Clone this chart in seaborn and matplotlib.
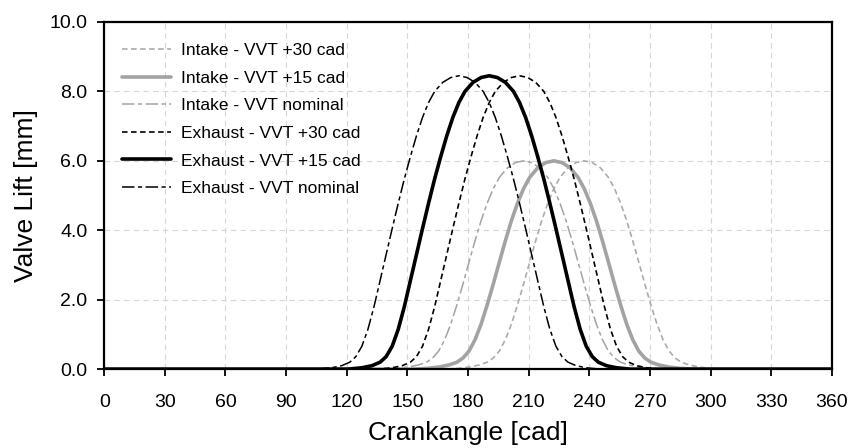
import matplotlib
matplotlib.use("Agg")
import matplotlib.pyplot as plt
import seaborn as sns
import pandas as pd

# ---- data ----
exhaust_lift = [0, 0, 0.04, 0.1, 0.2, 0.36, 0.66, 1.15, 1.8, 2.55, 3.3, 4.05, 4.78, 5.48, 6.12, 6.72, 7.25,
                7.68, 8.0, 8.26, 8.40, 8.45, 8.40, 8.26, 8.0, 7.68, 7.25, 6.72, 6.12, 5.48, 4.78, 4.05, 3.3,
                2.55, 1.8, 1.15, 0.66, 0.36, 0.2, 0.1, 0.04, 0, 0]
exh_nominal_cad = [0, 105.5, 112.5, 117.5, 121.5, 124.5, 127.5, 130.5, 133.5, 136.5, 139.5, 142.5, 145.5, 148.5,
                   151.5, 154.5, 157.5, 160.5, 163.5, 167.5, 171.5, 175.5, 179.5, 183.5, 187.5, 190.5, 193.5,
                   196.5, 199.5, 202.5, 205.5, 208.5, 211.5, 214.5, 217.5, 220.5, 223.5, 226.5, 229.5, 233.5,
                   238.5, 245.5, 360]
exh_p15_cad = [0, 120.5, 127.5, 132.5, 136.5, 139.5, 142.5, 145.5, 148.5, 151.5, 154.5, 157.5, 160.5, 163.5,
               166.5, 169.5, 172.5, 175.5, 178.5, 182.5, 186.5, 190.5, 194.5, 198.5, 202.5, 205.5, 208.5,
               211.5, 214.5, 217.5, 220.5, 223.5, 226.5, 229.5, 232.5, 235.5, 238.5, 241.5, 244.5, 248.5,
               253.5, 260.5, 360]
exh_p30_cad = [0, 135.5, 142.5, 147.5, 151.5, 154.5, 157.5, 160.5, 163.5, 166.5, 169.5, 172.5, 175.5, 178.5,
               181.5, 184.5, 187.5, 190.5, 193.5, 197.5, 201.5, 205.5, 209.5, 213.5, 217.5, 220.5, 223.5,
               226.5, 229.5, 232.5, 235.5, 238.5, 241.5, 244.5, 247.5, 250.5, 253.5, 256.5, 259.5, 263.5,
               268.5, 275.5, 360]

intake_lift = [0, 0, 0.02, 0.06, 0.12, 0.2, 0.32, 0.52, 0.85, 1.3, 1.85, 2.45, 3.08, 3.7, 4.28, 4.78, 5.2,
               5.52, 5.8, 5.95, 6.0, 5.95, 5.8, 5.52, 5.2, 4.78, 4.28, 3.7, 3.08, 2.45, 1.85, 1.3, 0.85,
               0.52, 0.32, 0.2, 0.12, 0.06, 0.02, 0, 0]
int_nominal_cad = [0, 137.5, 144.5, 150.5, 155.5, 159.5, 162.5, 165.5, 168.5, 171.5, 174.5, 177.5, 180.5,
                   183.5, 186.5, 189.5, 192.5, 195.5, 199.5, 203.5, 207.5, 211.5, 215.5, 219.5, 222.5, 225.5,
                   228.5, 231.5, 234.5, 237.5, 240.5, 243.5, 246.5, 249.5, 252.5, 255.5, 259.5, 264.5, 270.5,
                   277.5, 360]
int_p15_cad = [0, 152.5, 159.5, 165.5, 170.5, 174.5, 177.5, 180.5, 183.5, 186.5, 189.5, 192.5, 195.5, 198.5,
               201.5, 204.5, 207.5, 210.5, 214.5, 218.5, 222.5, 226.5, 230.5, 234.5, 237.5, 240.5, 243.5,
               246.5, 249.5, 252.5, 255.5, 258.5, 261.5, 264.5, 267.5, 270.5, 274.5, 279.5, 285.5, 292.5, 360]
int_p30_cad = [0, 167.5, 174.5, 180.5, 185.5, 189.5, 192.5, 195.5, 198.5, 201.5, 204.5, 207.5, 210.5, 213.5,
               216.5, 219.5, 222.5, 225.5, 229.5, 233.5, 237.5, 241.5, 245.5, 249.5, 252.5, 255.5, 258.5,
               261.5, 264.5, 267.5, 270.5, 273.5, 276.5, 279.5, 282.5, 285.5, 289.5, 294.5, 300.5, 307.5, 360]

labels = ["Intake - VVT +30 cad", "Intake - VVT +15 cad", "Intake - VVT nominal",
          "Exhaust - VVT +30 cad", "Exhaust - VVT +15 cad", "Exhaust - VVT nominal"]
x_ticks = [0, 30, 60, 90, 120, 150, 180, 210, 240, 270, 300, 330, 360]
y_ticks = [0.0, 2.0, 4.0, 6.0, 8.0, 10.0]

# ---- styling ----
sns.set_theme(style="white")
plt.rcParams["font.family"] = ["Liberation Sans", "DejaVu Sans"]
plt.rcParams["lines.scale_dashes"] = False
plt.rcParams["text.color"] = "black"
plt.rcParams["axes.labelcolor"] = "black"

gray = "#a3a3a3"
styles = [
    dict(color="#ababab", lw=1.2, ls=(0, (4.0, 2.5))),
    dict(color=gray, lw=2.6, ls="-"),
    dict(color=gray, lw=1.1, ls=(0, (9, 2.5, 3, 2.5))),
    dict(color="black", lw=1.2, ls=(0, (4.0, 2.5))),
    dict(color="black", lw=2.6, ls="-"),
    dict(color="black", lw=1.1, ls=(0, (9, 2.5, 3, 2.5))),
]
series = [(int_p30_cad, intake_lift), (int_p15_cad, intake_lift), (int_nominal_cad, intake_lift),
          (exh_p30_cad, exhaust_lift), (exh_p15_cad, exhaust_lift), (exh_nominal_cad, exhaust_lift)]

fig = plt.figure(figsize=(8.54, 4.48), dpi=100)
ax = fig.add_axes([0.122, 0.176, 0.852, 0.775])

for (xs, ys), lab, st in zip(series, labels, styles):
    df = pd.DataFrame({"cad": xs, "lift": ys})
    sns.lineplot(data=df, x="cad", y="lift", ax=ax, label=lab, color=st["color"],
                 linewidth=st["lw"], linestyle=st["ls"], sort=False, estimator=None)

ax.set_xlim(0, 360)
ax.set_ylim(0, 10)
ax.set_xticks(x_ticks)
ax.set_yticks(y_ticks)
ax.set_xticklabels([str(v) for v in x_ticks], fontsize=14)
ax.set_yticklabels([f"{v:.1f}" for v in y_ticks], fontsize=14)
ax.set_xlabel("Crankangle [cad]", fontsize=19, labelpad=7, color="black")
ax.set_ylabel("Valve Lift [mm]", fontsize=19, labelpad=8, color="black")
ax.grid(True, color="#d6d6d6", linestyle=(0, (4, 3)), linewidth=0.8)
ax.set_axisbelow(True)
for sp in ax.spines.values():
    sp.set_color("black")
    sp.set_linewidth(1.6)
ax.tick_params(axis="x", which="major", direction="out", length=5, width=1.3,
               color="black", bottom=True, labelcolor="black", pad=13)
ax.tick_params(axis="y", which="major", direction="out", length=5, width=1.3,
               color="black", left=True, labelcolor="black", pad=7)

leg = ax.legend(loc="upper left", bbox_to_anchor=(0.025, 0.94), frameon=False, fontsize=12.5,
                handlelength=2.8, handletextpad=0.6, labelspacing=0.72, borderpad=0, borderaxespad=0)
for t in leg.get_texts():
    t.set_color("black")

fig.savefig("out.png", dpi=100, facecolor="white")
